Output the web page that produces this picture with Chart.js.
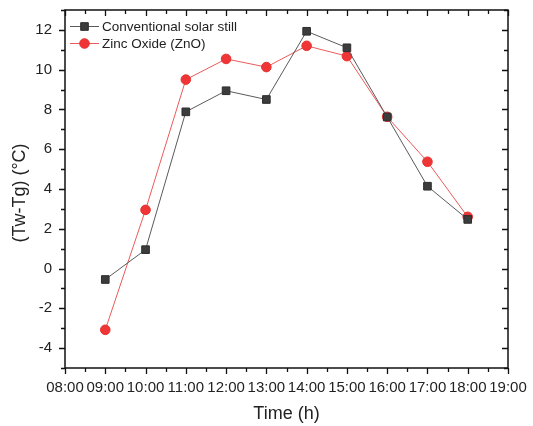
<!DOCTYPE html>
<html>
<head>
<meta charset="utf-8">
<script src="https://cdn.jsdelivr.net/npm/chart.js@4"></script>
<style>
html,body{margin:0;padding:0;background:#fff;}
#wrap{width:533px;height:426px;position:relative;}
</style>
</head>
<body>
<div id="wrap"><canvas id="c" width="533" height="426"></canvas></div>
<script>
// ---- data ----
const hours = [9, 10, 11, 12, 13, 14, 15, 16, 17, 18];
const conventional = [-0.55, 0.95, 7.88, 8.94, 8.5, 11.93, 11.1, 7.62, 4.14, 2.47];
const zno = [-3.08, 2.95, 9.5, 10.54, 10.13, 11.2, 10.68, 7.63, 5.37, 2.6];
const seriesNames = ['Conventional solar still', 'Zinc Oxide (ZnO)'];
const xTitle = 'Time (h)';
const yTitle = '(Tw-Tg) (°C)';
const xRange = [8, 19];
const yRange = [-5, 13];

const FONT = '"Liberation Sans", Arial, sans-serif';
const TXT = '#222';

function toPts(xs, ys){ return xs.map((x,i)=>({x:x, y:ys[i]})); }
function fmtHour(v){ return (v<10?'0':'') + v + ':00'; }

const styles = [
  {line:'#5a5a5a', fill:'#3c3c3c', border:'#2e2e2e', style:'rect', r:5.4},
  {line:'#ec5a5a', fill:'#ef3535', border:'#e83030', style:'circle', r:4.8}
];

const framePlugin = {
  id:'frame',
  afterDraw(chart){
    const ctx = chart.ctx;
    const a = chart.chartArea;
    const xs = chart.scales.x, ys = chart.scales.y;
    ctx.save();
    ctx.strokeStyle = '#111';
    ctx.lineWidth = 1.5;
    ctx.strokeRect(a.left, a.top, a.right - a.left, a.bottom - a.top);
    ctx.lineWidth = 1.3;
    ctx.beginPath();
    xs.ticks.forEach(t=>{
      const v = t.value;
      const p = Math.round(xs.getPixelForValue(v)) + 0.5;
      const len = Number.isInteger(v) ? 6 : 4;
      ctx.moveTo(p, a.bottom); ctx.lineTo(p, a.bottom + len);
      ctx.moveTo(p, a.top); ctx.lineTo(p, a.top + len);
    });
    ys.ticks.forEach(t=>{
      const v = t.value;
      const p = Math.round(ys.getPixelForValue(v)) + 0.5;
      const len = (v % 2 === 0) ? 6 : 4;
      ctx.moveTo(a.left, p); ctx.lineTo(a.left - len, p);
      ctx.moveTo(a.right, p); ctx.lineTo(a.right - len, p);
    });
    ctx.stroke();

    // axis titles
    ctx.fillStyle = TXT;
    ctx.font = '18px ' + FONT;
    ctx.textAlign = 'center';
    ctx.textBaseline = 'middle';
    ctx.fillText(xTitle, (a.left + a.right)/2, 414);
    ctx.save();
    ctx.translate(20, (a.top + a.bottom)/2 + 4);
    ctx.rotate(-Math.PI/2);
    ctx.fillText(yTitle, 0, 0);
    ctx.restore();

    // legend
    ctx.font = '13.5px ' + FONT;
    ctx.textAlign = 'left';
    const rows = [a.top + 16, a.top + 33];
    chart.data.datasets.forEach((ds, i)=>{
      const st = styles[i];
      const y = rows[i];
      ctx.strokeStyle = st.line; ctx.lineWidth = 1;
      ctx.beginPath(); ctx.moveTo(70, y + 0.5); ctx.lineTo(99, y + 0.5); ctx.stroke();
      ctx.fillStyle = st.fill; ctx.strokeStyle = st.border;
      Chart.helpers.drawPoint(ctx, {pointStyle: st.style, radius: st.r, borderWidth: 1}, 84.5, y + 0.5);
      ctx.fillStyle = TXT;
      ctx.fillText(ds.label, 102, y + 1);
    });
    ctx.restore();
  }
};

function zeroPad(s){ s.paddingTop = 0; s.paddingBottom = 0; s.paddingLeft = 0; s.paddingRight = 0; }

new Chart(document.getElementById('c'), {
  type:'line',
  data:{
    datasets:[conventional, zno].map((vals, i)=>({
      label: seriesNames[i],
      data: toPts(hours, vals),
      borderColor: styles[i].line,
      borderWidth: 1,
      pointStyle: styles[i].style,
      pointRadius: styles[i].r,
      pointBackgroundColor: styles[i].fill,
      pointBorderColor: styles[i].border,
      pointBorderWidth: 1,
      tension: 0,
      fill: false
    }))
  },
  options:{
    responsive:false,
    animation:false,
    devicePixelRatio:1,
    layout:{padding:{top:10, right:25, left:0, bottom:0}},
    plugins:{legend:{display:false}, tooltip:{enabled:false}},
    scales:{
      x:{
        type:'linear', min:xRange[0], max:xRange[1],
        grid:{display:false}, border:{display:false},
        ticks:{stepSize:0.5, autoSkip:false, maxRotation:0, padding:3,
          font:{family:FONT, size:15}, color:TXT,
          callback:(v)=> Number.isInteger(v) ? fmtHour(v) : ''},
        afterFit:(s)=>{ s.height = 58; zeroPad(s); }
      },
      y:{
        type:'linear', min:yRange[0], max:yRange[1],
        grid:{display:false}, border:{display:false},
        ticks:{stepSize:1, autoSkip:false, padding:5,
          font:{family:FONT, size:15}, color:TXT,
          callback:(v)=> (v % 2 === 0) ? String(v) : ''},
        afterFit:(s)=>{ s.width = 65; zeroPad(s); }
      }
    }
  },
  plugins:[framePlugin]
});
</script>
</body>
</html>
